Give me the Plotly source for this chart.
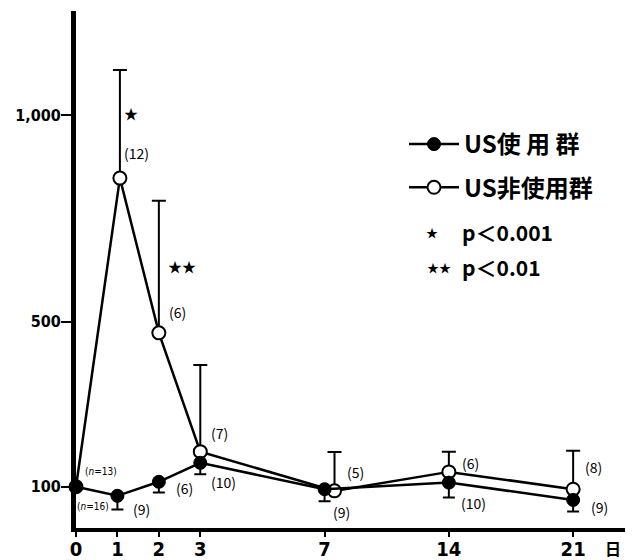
import plotly.graph_objects as go

# ---------------- data ----------------
days = ["0", "1", "2", "3", "7", "14", "21"]
day_pos = [0, 1, 2, 3, 6, 9, 12]          # axis scale (compressed after day 3)

us_used = [100, 78, 112, 158, 94, 110, 68]
us_used_low = [None, 45, 86, 130, 65, 74, 40]     # lower error bar ends
us_used_n = ["(<i>n</i>=16)", "(9)", "(6)", "(10)", "(9)", "(10)", "(9)"]

us_not = [100, 848, 473, 185, 90, 136, 94]
us_not_high = [None, 1110, 793, 395, 184, 185, 187]  # upper error bar ends
us_not_n = ["(<i>n</i>=13)", "(12)", "(6)", "(7)", "(5)", "(6)", "(8)"]

y_ticks = [100, 500, 1000]
y_tick_text = ["100", "500", "1,000"]

# ---------------- layout helpers ----------------
# the page body has an 8px default margin, so the figure starts at (8, 8)
OFF = 8
W, H = 633 - OFF, 560 - OFF
X0, X1, Y0, Y1 = 76, 627, 11, 528          # plot area in window pixels
ML, MR, MT, MB = X0 - OFF, 633 - X1, Y0 - OFF, 560 - Y1
PW, PH = X1 - X0, Y1 - Y0
XR = [0, 13.3]
YR = [0, 1253]

def px(xp):
    return (xp - X0) / PW

def py(yp):
    return (Y1 - yp) / PH

open_shift = [0, 0.06, 0, 0, 0.24, 0, 0]
x_used = day_pos
x_not = [p + s for p, s in zip(day_pos, open_shift)]

up_err = [None if h is None else h - v for h, v in zip(us_not_high, us_not)]
low_err = [None if l is None else v - l for l, v in zip(us_used_low, us_used)]

LABEL_FONT = "Liberation Sans Narrow, DejaVu Sans Condensed, Arial Narrow, sans-serif"
CJK = "Noto Sans CJK JP, sans-serif"

fig = go.Figure()

fig.add_trace(go.Scatter(
    x=x_not, y=us_not, mode="lines+markers", name="US非使用群",
    legendrank=2, legendgroup="b",
    line=dict(color="black", width=2.5),
    marker=dict(symbol="circle", size=13, color="white",
                line=dict(color="black", width=2)),
    error_y=dict(type="data", symmetric=False, array=up_err,
                 arrayminus=[0 if e is not None else None for e in up_err],
                 color="black", thickness=2, width=7),
    cliponaxis=False,
))

fig.add_trace(go.Scatter(
    x=x_used, y=us_used, mode="lines+markers", name="US使 用 群",
    legendrank=1, legendgroup="a",
    line=dict(color="black", width=2.5),
    marker=dict(symbol="circle", size=13, color="black",
                line=dict(color="black", width=1)),
    error_y=dict(type="data", symmetric=False,
                 array=[0 if e is not None else None for e in low_err],
                 arrayminus=low_err,
                 color="black", thickness=2, width=6),
    cliponaxis=False,
))

# count labels (pixel offsets from their points)
used_off = [(17, -20), (24, -13), (26, -6), (23, -19), (17, -23), (25, -20), (26, -7)]
not_off = [(25, 15), (17, 25), (19, 21), (19, 19), (21, 19), (22, 9), (20, 22)]

ann = []
for x, y, t, (dx, dy) in zip(x_used, us_used, us_used_n, used_off):
    small = "<i>n</i>" in t
    ann.append(dict(x=x, y=y, text=t, showarrow=False, xshift=dx, yshift=dy,
                    font=dict(family=LABEL_FONT if small else CJK,
                              size=10 if small else 14, color="black")))
for x, y, t, (dx, dy) in zip(x_not, us_not, us_not_n, not_off):
    small = "<i>n</i>" in t
    ann.append(dict(x=x, y=y, text=t, showarrow=False, xshift=dx, yshift=dy,
                    font=dict(family=LABEL_FONT if small else CJK,
                              size=10 if small else 14, color="black")))

def paper_text(xp, yp, text, size, anchor="center"):
    return dict(x=px(xp), y=py(yp), xref="paper", yref="paper", text=text,
                xanchor=anchor, yanchor="middle", showarrow=False,
                font=dict(family=CJK, size=size, color="black"))

# significance stars on the plot
ann.append(paper_text(131, 113, "★", 14))
ann.append(paper_text(182, 266, "★★", 14))

# p-value key
ann.append(paper_text(432, 232, "★", 12))
ann.append(paper_text(460, 232, "<b>p＜0.001</b>", 21, "left"))
ann.append(paper_text(439, 267, "★★", 12))
ann.append(paper_text(460, 267, "<b>p＜0.01</b>", 21, "left"))

# unit label
ann.append(paper_text(613, 548, "<b>日</b>", 16))

fig.update_layout(
    width=W, height=H,
    margin=dict(l=ML, r=MR, t=MT, b=MB, autoexpand=False),
    paper_bgcolor="white", plot_bgcolor="white",
    showlegend=True,
    legend=dict(x=px(404), y=py(122), xanchor="left", yanchor="top",
                traceorder="grouped", tracegroupgap=9, itemwidth=50,
                font=dict(family=CJK, size=24, color="black", weight="bold"),
                bgcolor="rgba(0,0,0,0)"),
    annotations=ann,
    xaxis=dict(range=XR, tickvals=day_pos, ticktext=days, automargin=False,
               showline=True, linecolor="black", linewidth=4,
               ticks="outside", ticklen=5, tickwidth=1.5, tickcolor="black",
               showgrid=False, zeroline=False, ticklabelstandoff=-5,
               tickfont=dict(family=LABEL_FONT, size=20, color="black", weight="bold")),
    yaxis=dict(range=YR, tickvals=y_ticks, ticktext=y_tick_text, automargin=False,
               showline=True, linecolor="black", linewidth=5,
               ticks="outside", ticklen=10, tickwidth=1.5, tickcolor="black",
               showgrid=False, zeroline=False, ticklabelstandoff=-3,
               tickfont=dict(family=LABEL_FONT, size=16, color="black", weight="bold")),
)

fig.write_html("out.html")
